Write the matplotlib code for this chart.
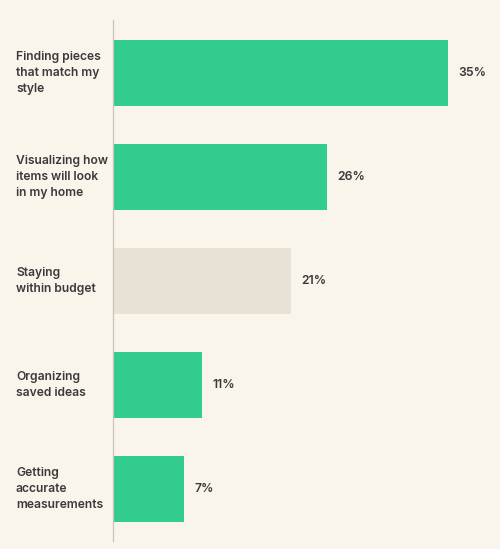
import matplotlib.pyplot as plt
from matplotlib.transforms import blended_transform_factory

plt.rcParams['font.family'] = ['Inter', 'DejaVu Sans']

categories = ["Finding pieces\nthat match my\nstyle",
              "Visualizing how\nitems will look\nin my home",
              "Staying\nwithin budget",
              "Organizing\nsaved ideas",
              "Getting\naccurate\nmeasurements"]
bar_values = [35, 22.4, 18.6, 9.3, 7.4]
labels = ["35%", "26%", "21%", "11%", "7%"]
colors = ["#33cc8f", "#33cc8f", "#e8e2d6", "#33cc8f", "#33cc8f"]

bg = "#faf5eb"
fig = plt.figure(figsize=(5, 5.49), dpi=100, facecolor=bg)
ax = fig.add_axes([113 / 500, 1 - 541 / 549, 1 - 113 / 500, 521 / 549])
ax.set_facecolor(bg)

y = list(range(len(categories)))
ax.barh(y, bar_values, height=0.635, color=colors, left=0)
ax.set_xlim(0, 35 * 387 / 334.5)
ax.set_ylim(4.5, -0.51)

for s in ["top", "right", "bottom"]:
    ax.spines[s].set_visible(False)
ax.spines["left"].set_color("#c9c3b8")
ax.spines["left"].set_linewidth(0.9)
ax.set_xticks([])
ax.set_yticks([])

tr = blended_transform_factory(fig.transFigure, ax.transData)
for i, cat in enumerate(categories):
    ax.text(16 / 500, i, cat, transform=tr, ha="left", va="center",
            fontsize=8.7, fontweight="semibold", color="#3a3a3a",
            linespacing=1.4)
    ax.text(bar_values[i] + 1.1, i, labels[i], ha="left", va="center",
            fontsize=8.8, fontweight="semibold", color="#3a3a3a")

fig.savefig("out.png", dpi=100, facecolor=bg)
